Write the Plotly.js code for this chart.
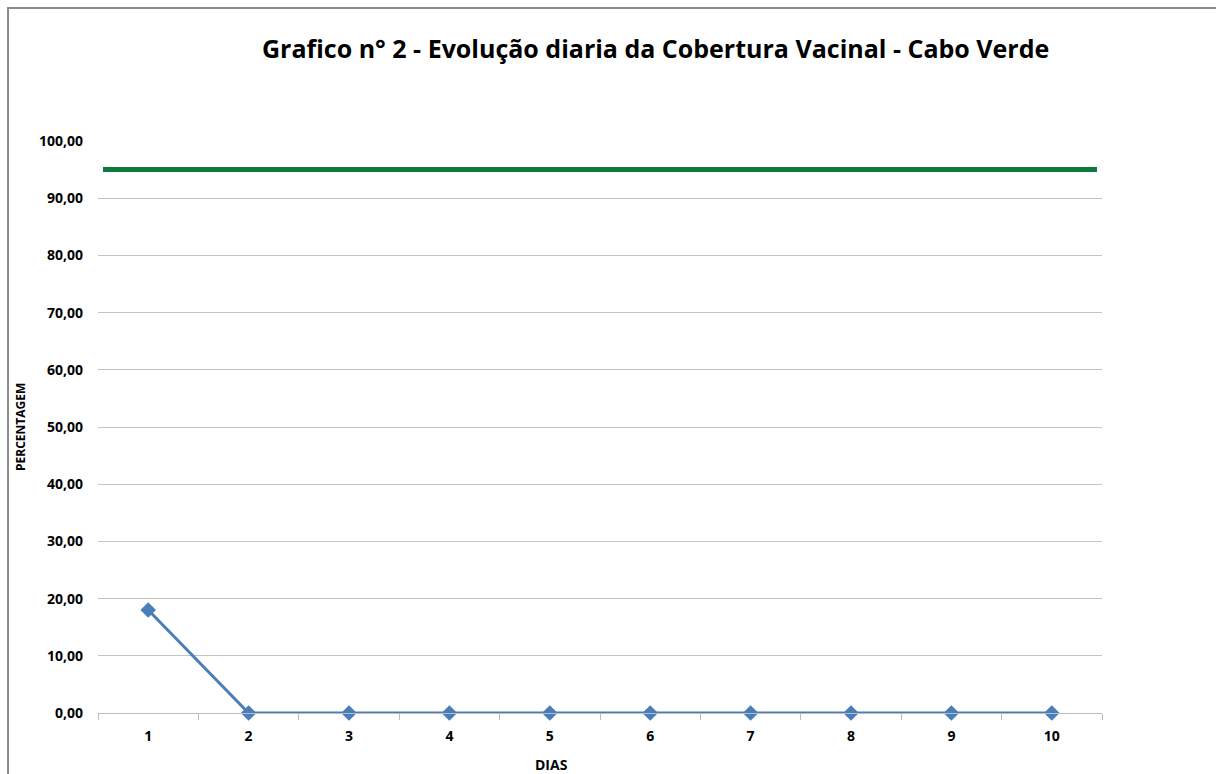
<!DOCTYPE html>
<html><head><meta charset="utf-8">
<script src="https://cdn.plot.ly/plotly-3.0.1.min.js"></script>
<style>html,body{margin:0;padding:0;background:#fff;}#chart{width:1216px;height:774px;}</style>
</head><body><div id="chart"></div>
<script>
const dias = ['1','2','3','4','5','6','7','8','9','10'];
const cobertura = [18, 0, 0, 0, 0, 0, 0, 0, 0, 0];
const meta = 95;
const yTicks = [0,10,20,30,40,50,60,70,80,90,100];
const titleText = 'Grafico n° 2 - Evolução diaria da Cobertura Vacinal - Cabo Verde';
const xTitle = 'DIAS';
const yTitle = 'PERCENTAGEM';

const F = 'Open Sans, Liberation Sans, sans-serif';
const traces = [{
  x: dias, y: cobertura, type: 'scatter', mode: 'lines+markers',
  line: {color: '#4a7ebb', width: 3},
  marker: {symbol: 'diamond', size: 12, color: '#4a7ebb'},
  cliponaxis: false, showlegend: false
}];
const layout = {
  width: 1216, height: 774,
  margin: {l: 98, r: 114, t: 141, b: 61},
  paper_bgcolor: '#fff', plot_bgcolor: '#fff',
  separators: ',.',
  showlegend: false,
  xaxis: {type: 'category', range: [-0.5, 9.5], autorange: false, tickson: 'boundaries', ticks: 'outside', ticklen: 6, tickcolor: '#bdbdbd',
    showline: true, linecolor: '#bdbdbd', linewidth: 1, showgrid: false, zeroline: false, ticklabelstandoff: 10,
    tickfont: {family: F, size: 14, color: '#000', weight: 'bold'}, fixedrange: true},
  yaxis: {range: [0, 100], tickvals: yTicks, tickformat: '.2f', showgrid: true, gridcolor: '#c4c4c4', gridwidth: 1,
    zeroline: false, showline: false, ticks: '', ticklabelstandoff: 14,
    tickfont: {family: F, size: 14, color: '#000', weight: 'bold'}, fixedrange: true},
  shapes: [
    {type: 'line', xref: 'paper', yref: 'y', x0: 0.005, x1: 0.995, y0: meta, y1: meta,
      line: {color: '#0b7a3c', width: 5}},
    {type: 'path', xref: 'paper', yref: 'paper',
      path: 'M -0.0896 -0.12 L -0.0896 1.2325 L 1.12 1.2325',
      line: {color: '#8c8c8c', width: 2}}
  ],
  annotations: [
    {text: titleText, xref: 'paper', yref: 'paper', x: 0.555, y: 1.1625, xanchor: 'center', yanchor: 'middle',
      showarrow: false, font: {family: F, size: 25, color: '#000', weight: 'bold'}},
    {text: xTitle, xref: 'paper', yref: 'paper', x: 0.452, y: -0.0908, xanchor: 'center', yanchor: 'middle',
      showarrow: false, font: {family: F, size: 14, color: '#000', weight: 'bold'}},
    {text: yTitle, xref: 'paper', yref: 'paper', x: -0.0777, y: 0.5, xanchor: 'center', yanchor: 'middle', textangle: -90,
      showarrow: false, font: {family: F, size: 12, color: '#000', weight: 'bold'}}
  ]
};
Plotly.newPlot('chart', traces, layout, {displayModeBar: false, staticPlot: true});
</script></body></html>
